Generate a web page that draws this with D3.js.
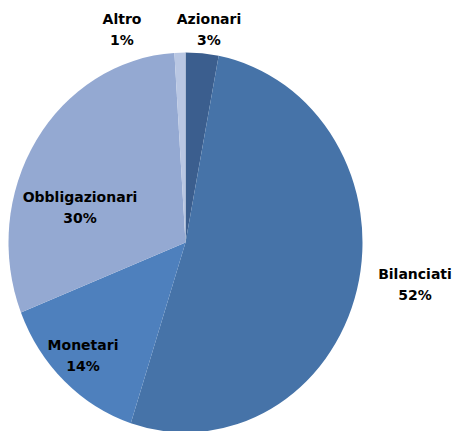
<!DOCTYPE html>
<html>
<head>
<meta charset="utf-8">
<script src="https://cdn.jsdelivr.net/npm/d3@7/dist/d3.min.js"></script>
<style>
  html, body { margin: 0; padding: 0; background: #fff; }
  svg { display: block; }
  .label { font-family: "DejaVu Sans", Verdana, sans-serif; font-weight: bold; font-size: 14px; fill: #000; }
</style>
</head>
<body>
<div id="chart"></div>
<script>
const categories = ['Azionari', 'Bilanciati', 'Monetari', 'Obbligazionari', 'Altro']
const values = [3, 52, 14, 30, 1]
const colors = ['#3b5e8e', '#4673a8', '#4e80bd', '#94a9d2', '#b9c7e3']

// where each label sits (layout, not data)
const labelPos = [
  [209, 29], [415, 284], [83, 355], [80, 207], [122, 29]
]

const width = 454
const height = 431
const cx = 185.5
const cy = 242.5
const ry = 190
const rx = 177

const svg = d3.select('#chart')
  .append('svg')
  .attr('width', width)
  .attr('height', height)

const pie = d3.pie().sort(null).value(d => d.value)
const arc = d3.arc().innerRadius(0).outerRadius(ry)

const data = categories.map((c, i) => ({ name: c, value: values[i], color: colors[i] }))

const slices = svg.append('g')
  .attr('transform', `translate(${cx},${cy}) scale(${rx / ry},1)`)

slices.selectAll('path')
  .data(pie(data))
  .enter()
  .append('path')
  .attr('d', arc)
  .attr('fill', d => d.data.color)

const labels = svg.append('g')

labels.selectAll('text')
  .data(data)
  .enter()
  .append('text')
  .attr('class', 'label')
  .attr('text-anchor', 'middle')
  .attr('transform', (d, i) => `translate(${labelPos[i][0]},${labelPos[i][1]})`)
  .each(function (d) {
    const t = d3.select(this)
    const total = d3.sum(values)
    t.append('tspan').attr('x', 0).attr('y', -5).text(d.name)
    t.append('tspan').attr('x', 0).attr('y', 16).text(Math.round(d.value / total * 100) + '%')
  })
</script>
</body>
</html>
